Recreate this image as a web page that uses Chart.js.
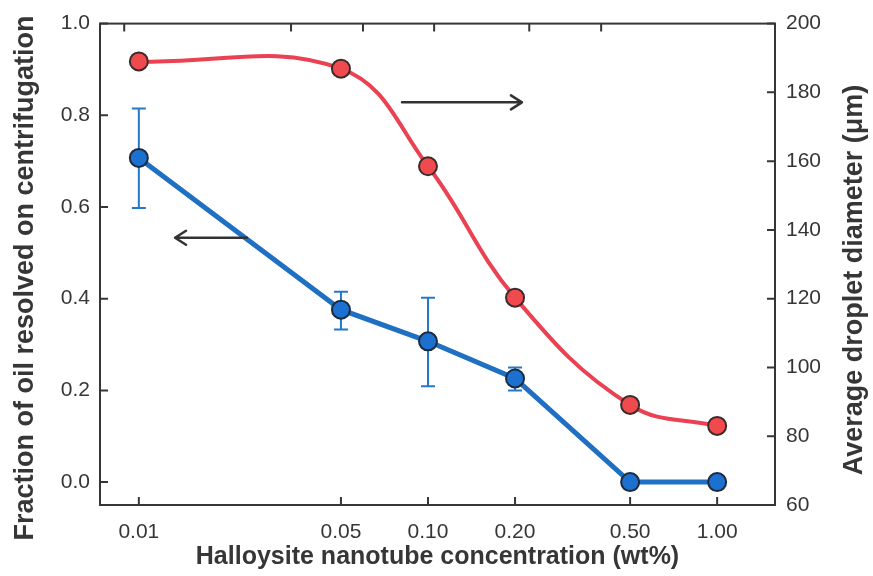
<!DOCTYPE html>
<html>
<head>
<meta charset="utf-8">
<script src="https://cdn.jsdelivr.net/npm/chart.js@4.4.0/dist/chart.umd.min.js"></script>
<style>
  html, body { margin: 0; padding: 0; background: #fff; }
  #wrap { width: 873px; height: 576px; }
</style>
</head>
<body>
<div id="wrap"><canvas id="chart" width="873" height="576"></canvas></div>
<script>
/* data */
const concentrations = [0.01, 0.05, 0.10, 0.20, 0.50, 1.00];
const xTickLabels = ['0.01', '0.05', '0.10', '0.20', '0.50', '1.00'];
const oilFraction = [0.707, 0.376, 0.307, 0.226, 0.0, 0.0];
const oilErrLow  = [0.598, 0.333, 0.209, 0.200, null, null];
const oilErrHigh = [0.815, 0.415, 0.402, 0.250, null, null];
const dropletDiameter = [189.0, 186.9, 158.5, 120.3, 89.1, 83.0];
const leftTicks = [0.0, 0.2, 0.4, 0.6, 0.8, 1.0];
const rightTicks = [60, 80, 100, 120, 140, 160, 180, 200];
const topTickValues = [0.0089, 0.0336, 0.0596, 0.105, 0.224, 0.397];
// arrows pointing at each series' axis (data units)
const diameterArrowX = [0.0813, 0.2113];
const diameterArrowY = 177.1;
const fractionArrowX = [0.02366, 0.01334];
const fractionArrowY = 0.533;

const INK = '#363636';
const FONT = "'Liberation Sans', Arial, sans-serif";

function drawArrow(ctx, x0, y, x1) {
  const dir = Math.sign(x1 - x0);
  ctx.beginPath();
  ctx.moveTo(x0, y); ctx.lineTo(x1, y);
  ctx.moveTo(x1 - dir * 11, y - 7); ctx.lineTo(x1, y); ctx.lineTo(x1 - dir * 11, y + 7);
  ctx.stroke();
}

const decorations = {
  id: 'decorations',
  beforeDatasetsDraw(chart) {
    // error bars under the blue markers
    const { ctx } = chart;
    const x = chart.scales.x, y = chart.scales.y;
    ctx.save();
    ctx.strokeStyle = '#2478c8';
    ctx.lineWidth = 2;
    concentrations.forEach((c, i) => {
      if (oilErrLow[i] == null) return;
      const px = x.getPixelForValue(c);
      const lo = y.getPixelForValue(oilErrLow[i]);
      const hi = y.getPixelForValue(oilErrHigh[i]);
      ctx.beginPath();
      ctx.moveTo(px, lo); ctx.lineTo(px, hi);
      ctx.moveTo(px - 7, lo); ctx.lineTo(px + 7, lo);
      ctx.moveTo(px - 7, hi); ctx.lineTo(px + 7, hi);
      ctx.stroke();
    });
    ctx.restore();
  },
  afterDatasetsDraw(chart) {
    const { ctx } = chart;
    const x = chart.scales.x;
    ctx.save();
    ctx.strokeStyle = '#333';
    ctx.lineWidth = 2.5;
    ctx.lineCap = 'round';
    ctx.lineJoin = 'round';
    drawArrow(ctx, x.getPixelForValue(diameterArrowX[0]),
      chart.scales.y1.getPixelForValue(diameterArrowY), x.getPixelForValue(diameterArrowX[1]));
    drawArrow(ctx, x.getPixelForValue(fractionArrowX[0]),
      chart.scales.y.getPixelForValue(fractionArrowY), x.getPixelForValue(fractionArrowX[1]));
    ctx.restore();
  },
  afterDraw(chart) {
    const { ctx, chartArea: a } = chart;
    const x = chart.scales.x, y = chart.scales.y, y1 = chart.scales.y1;
    ctx.save();
    ctx.strokeStyle = INK;
    ctx.lineWidth = 2;
    ctx.strokeRect(a.left, a.top, a.right - a.left, a.bottom - a.top);
    // inward tick marks
    ctx.beginPath();
    leftTicks.forEach(v => { const p = y.getPixelForValue(v); ctx.moveTo(a.left, p); ctx.lineTo(a.left + 8, p); });
    rightTicks.forEach(v => { const p = y1.getPixelForValue(v); ctx.moveTo(a.right, p); ctx.lineTo(a.right - 8, p); });
    concentrations.forEach(v => { const p = x.getPixelForValue(v); ctx.moveTo(p, a.bottom); ctx.lineTo(p, a.bottom - 8); });
    topTickValues.forEach(v => { const p = x.getPixelForValue(v); ctx.moveTo(p, a.top); ctx.lineTo(p, a.top + 8); });
    ctx.stroke();
    // axis titles
    ctx.fillStyle = INK;
    ctx.textAlign = 'center';
    ctx.textBaseline = 'middle';
    ctx.font = 'bold 25px ' + FONT;
    ctx.fillText('Halloysite nanotube concentration (wt%)', (a.left + a.right) / 2, 557);
    ctx.font = 'bold 27px ' + FONT;
    ctx.save();
    ctx.translate(26, 278); ctx.rotate(-Math.PI / 2);
    ctx.fillText('Fraction of oil resolved on centrifugation', 0, 0);
    ctx.restore();
    ctx.save();
    ctx.translate(855, 280); ctx.rotate(-Math.PI / 2);
    ctx.fillText('Average droplet diameter (\u03bcm)', 0, 0);
    ctx.restore();
    ctx.restore();
  }
};

const tickFont = { family: FONT, size: 21 };

new Chart(document.getElementById('chart'), {
  type: 'line',
  data: {
    datasets: [
      {
        label: 'Average droplet diameter',
        data: concentrations.map((c, i) => ({ x: c, y: dropletDiameter[i] })),
        yAxisID: 'y1',
        borderColor: '#ea4253',
        borderWidth: 4,
        tension: 0.4,
        pointRadius: 9,
        pointBackgroundColor: '#f04a4e',
        pointBorderColor: '#3b2b2b',
        pointBorderWidth: 2
      },
      {
        label: 'Fraction of oil resolved',
        data: concentrations.map((c, i) => ({ x: c, y: oilFraction[i] })),
        yAxisID: 'y',
        borderColor: '#1f6fc2',
        borderWidth: 5,
        tension: 0,
        pointRadius: 9,
        pointBackgroundColor: '#1c70cf',
        pointBorderColor: '#1d2b3d',
        pointBorderWidth: 2
      }
    ]
  },
  options: {
    responsive: false,
    devicePixelRatio: 1,
    animation: false,
    layout: { padding: { top: 23, left: 0, right: 0, bottom: 0 } },
    plugins: { legend: { display: false }, tooltip: { enabled: false } },
    scales: {
      x: {
        type: 'logarithmic',
        position: 'bottom',
        min: 0.00734,
        max: 1.585,
        afterBuildTicks: s => { s.ticks = concentrations.map(v => ({ value: v })); },
        afterFit: s => { s.height = 71; },
        grid: { display: false, drawTicks: false },
        border: { display: false },
        ticks: {
          autoSkip: false, maxRotation: 0, padding: 15,
          font: tickFont, color: INK,
          callback: (v, i) => xTickLabels[i]
        }
      },
      y: {
        position: 'left',
        min: -0.05,
        max: 1.0,
        afterBuildTicks: s => { s.ticks = leftTicks.map(v => ({ value: v })); },
        afterFit: s => { s.width = 100; },
        grid: { display: false, drawTicks: false },
        border: { display: false },
        ticks: { padding: 10, font: tickFont, color: INK, callback: v => v.toFixed(1) }
      },
      y1: {
        position: 'right',
        min: 60,
        max: 200,
        afterBuildTicks: s => { s.ticks = rightTicks.map(v => ({ value: v })); },
        afterFit: s => { s.width = 98; },
        grid: { display: false, drawTicks: false },
        border: { display: false },
        ticks: { padding: 11, font: tickFont, color: INK }
      }
    }
  },
  plugins: [decorations]
});
</script>
</body>
</html>
